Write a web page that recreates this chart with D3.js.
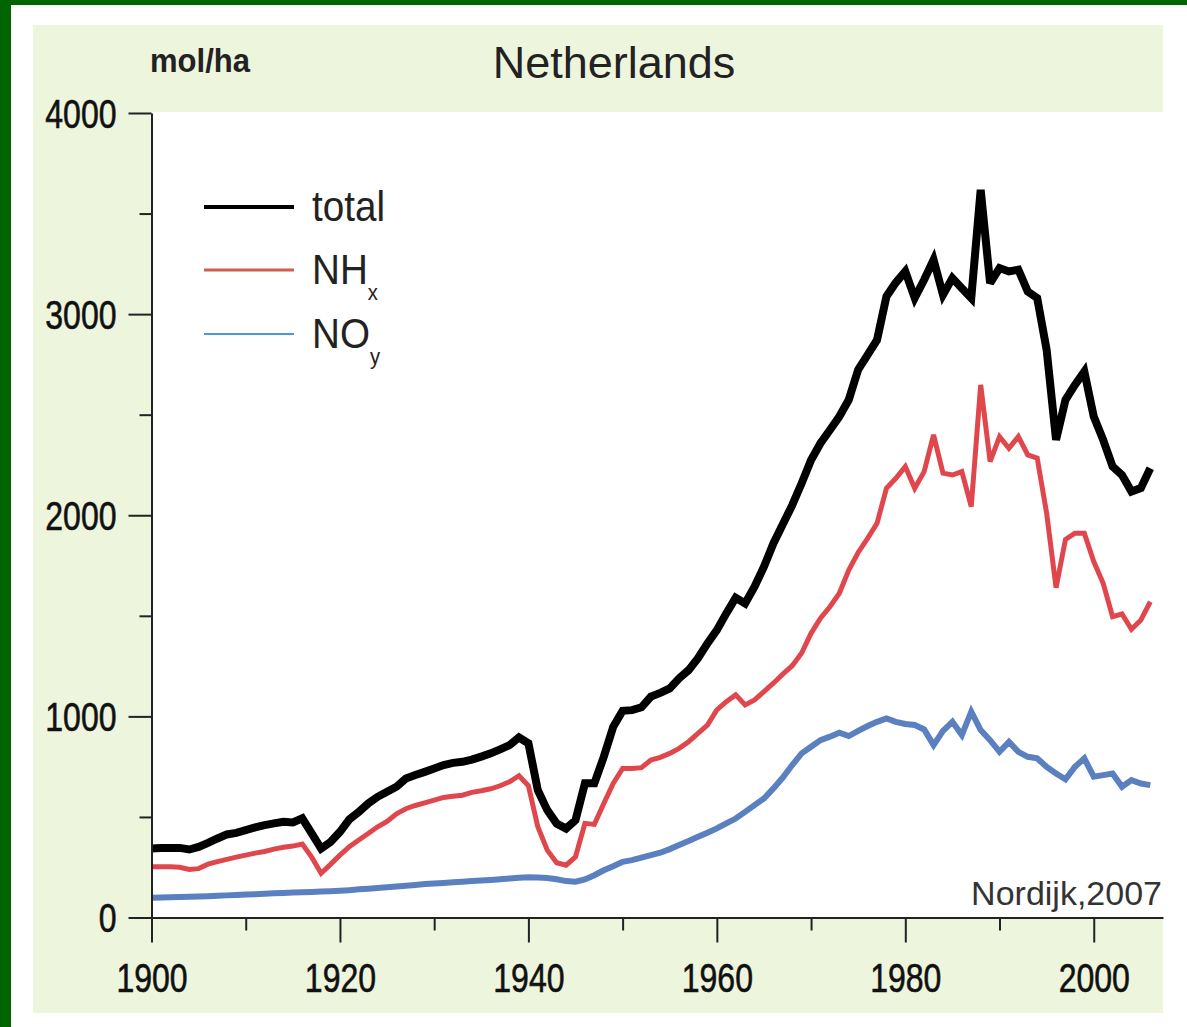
<!DOCTYPE html>
<html>
<head>
<meta charset="utf-8">
<script src="https://cdn.jsdelivr.net/npm/d3@7"></script>
<style>
  body { margin: 0; background: #fff; }
  svg { display: block; }
  text { font-family: "Liberation Sans", Arial, sans-serif; }
</style>
</head>
<body>
<svg id="chart" width="1187" height="1027"></svg>
<script>
// Nitrogen deposition in the Netherlands, mol/ha per year
const years = [
  1900,1901,1902,1903,1904,1905,1906,1907,1908,1909,
  1910,1911,1912,1913,1914,1915,1916,1917,1918,1919,
  1920,1921,1922,1923,1924,1925,1926,1927,1928,1929,
  1930,1931,1932,1933,1934,1935,1936,1937,1938,1939,
  1940,1941,1942,1943,1944,1945,1946,1947,1948,1949,
  1950,1951,1952,1953,1954,1955,1956,1957,1958,1959,
  1960,1961,1962,1963,1964,1965,1966,1967,1968,1969,
  1970,1971,1972,1973,1974,1975,1976,1977,1978,1979,
  1980,1981,1982,1983,1984,1985,1986,1987,1988,1989,
  1990,1991,1992,1993,1994,1995,1996,1997,1998,1999,
  2000,2001,2002,2003,2004,2005,2006
];

const total = [
  343,345,345,346,338,351,371,393,413,421,
  434,448,459,468,476,473,493,418,343,375,
  426,488,525,567,600,625,650,691,708,724,
  741,758,769,774,785,800,816,836,857,895,
  866,633,534,467,442,484,667,667,799,948,
  1028,1031,1045,1098,1117,1139,1189,1230,1289,1363,
  1429,1512,1590,1562,1645,1744,1860,1955,2050,2159,
  2275,2358,2424,2491,2574,2724,2797,2872,3088,3157,
  3212,3080,3171,3270,3096,3179,3129,3080,3618,3154,
  3229,3212,3221,3112,3080,2822,2375,2574,2648,2714,
  2491,2375,2242,2200,2118,2135,2234
];

const nhx = [
  252,252,252,250,239,243,265,278,289,300,
  310,320,328,340,349,355,365,300,220,264,
  310,352,385,418,451,478,516,541,557,570,
  584,597,603,608,622,630,640,655,675,705,
  655,451,335,272,260,302,468,463,567,667,
  741,741,745,783,796,816,841,874,915,957,
  1032,1073,1107,1057,1082,1123,1165,1210,1252,1315,
  1413,1488,1545,1612,1728,1815,1885,1960,2134,2184,
  2242,2134,2217,2400,2209,2200,2217,2043,2648,2267,
  2391,2333,2391,2300,2284,2010,1640,1880,1911,1911,
  1770,1662,1496,1509,1433,1479,1570
];

const noy = [
  98,99,101,102,103,105,106,108,110,112,
  114,116,118,120,122,124,126,127,129,131,
  133,136,140,143,147,150,154,158,162,166,
  169,172,175,178,181,184,187,190,194,198,
  200,199,196,190,181,178,189,210,235,255,
  277,285,298,310,322,340,360,380,401,421,
  443,468,492,525,559,592,642,696,758,816,
  849,882,899,919,902,928,952,973,990,973,
  962,957,935,857,928,973,907,1023,932,882,
  824,873,824,799,791,749,716,687,749,791,
  700,708,716,650,683,666,658
];

// Axis ticks
const yMajorTicks = [0, 1000, 2000, 3000, 4000];
const yMinorTicks = [500, 1500, 2500, 3500];
const xMajorTicks = [1900, 1920, 1940, 1960, 1980, 2000];
const xMinorTicks = [1910, 1930, 1950, 1970, 1990];

// Series and legend entries
const series = [
  { key: "total", values: total, color: "#000000", width: 8,   legendColor: "#000000", legendWidth: 4 },
  { key: "NH",    sub: "x", values: nhx, color: "#e0474c", width: 5, legendColor: "#cf5f4f", legendWidth: 3 },
  { key: "NO",    sub: "y", values: noy, color: "#5a80c0", width: 6, legendColor: "#4a9ad6", legendWidth: 2 }
];

const W = 1187, H = 1027;
const svg = d3.select("#chart");

// page frame and panel
svg.append("rect").attr("x", 0).attr("y", 0).attr("width", W).attr("height", H).attr("fill", "#ffffff");
svg.append("rect").attr("x", 0).attr("y", 0).attr("width", W).attr("height", 5).attr("fill", "#006400");
svg.append("rect").attr("x", 0).attr("y", 0).attr("width", 11).attr("height", H).attr("fill", "#006400");
svg.append("rect").attr("x", 33).attr("y", 25).attr("width", 1130).attr("height", 988).attr("fill", "#eef5dd");

const plot = { left: 151.5, right: 1163, top: 113, bottom: 917.5 };
svg.append("rect")
  .attr("x", plot.left).attr("y", 112)
  .attr("width", plot.right - plot.left).attr("height", plot.bottom - 112)
  .attr("fill", "#ffffff");

const x = d3.scaleLinear().domain([1900, 2007.35]).range([plot.left, plot.right]);
const y = d3.scaleLinear().domain([0, 4000]).range([plot.bottom, plot.top]);

// lines
const line = d3.line().x((d, i) => x(years[i])).y(d => y(d));
const lines = svg.append("g");
series.slice().reverse().forEach(s => {
  lines.append("path")
    .datum(s.values)
    .attr("d", line)
    .attr("fill", "none")
    .attr("stroke", s.color)
    .attr("stroke-width", s.width)
    .attr("stroke-linejoin", "miter")
    .attr("stroke-miterlimit", 3);
});

const axisColor = "#222";
const tickFont = 40, tickScale = 0.8;

function styleTickText(sel) {
  sel.attr("font-size", tickFont)
    .attr("font-family", "Liberation Sans, Arial, sans-serif")
    .attr("fill", "#111")
    .attr("stroke", "#111")
    .attr("stroke-width", 0.6);
}

// y axis
const yMinor = svg.append("g").attr("transform", `translate(${plot.left},0)`)
  .call(d3.axisLeft(y).tickValues(yMinorTicks).tickSize(12).tickSizeOuter(0).tickFormat(""));
yMinor.select(".domain").remove();
const yAxis = svg.append("g").attr("transform", `translate(${plot.left},0)`)
  .call(d3.axisLeft(y).tickValues(yMajorTicks).tickSize(23).tickSizeOuter(0).tickFormat(d3.format("d")));
yAxis.selectAll("text")
  .attr("x", 0).attr("dy", "0.36em")
  .attr("transform", `translate(-35,0) scale(${tickScale},1)`)
  .attr("text-anchor", "end")
  .call(styleTickText);

// x axis
const xMinor = svg.append("g").attr("transform", `translate(0,${plot.bottom})`)
  .call(d3.axisBottom(x).tickValues(xMinorTicks).tickSize(13).tickSizeOuter(0).tickFormat(""));
xMinor.select(".domain").remove();
const xAxis = svg.append("g").attr("transform", `translate(0,${plot.bottom})`)
  .call(d3.axisBottom(x).tickValues(xMajorTicks).tickSize(25).tickSizeOuter(0).tickFormat(d3.format("d")));
xAxis.selectAll("text")
  .attr("y", 0).attr("dy", 0)
  .attr("transform", `translate(0,74) scale(${tickScale},1)`)
  .attr("text-anchor", "middle")
  .call(styleTickText);

[yMinor, yAxis, xMinor, xAxis].forEach(g => {
  g.selectAll("line").attr("stroke", axisColor).attr("stroke-width", 2);
  g.selectAll(".domain").attr("stroke", axisColor).attr("stroke-width", 2);
});

// titles
svg.append("text").attr("x", 614).attr("y", 78).attr("text-anchor", "middle")
  .attr("font-size", 45).attr("fill", "#222").text("Netherlands");
svg.append("text").attr("transform", "translate(150,72) scale(0.94,1)")
  .attr("font-size", 33).attr("font-weight", "bold").attr("fill", "#222").text("mol/ha");
svg.append("text").attr("x", 1162).attr("y", 905).attr("text-anchor", "end")
  .attr("font-size", 34).attr("fill", "#333").text("Nordijk,2007");

// legend
const legendRows = [207, 270, 334];
const legend = svg.append("g");
series.forEach((s, i) => {
  const cy = legendRows[i];
  legend.append("line")
    .attr("x1", 204).attr("x2", 294).attr("y1", cy).attr("y2", cy)
    .attr("stroke", s.legendColor).attr("stroke-width", s.legendWidth);
  const t = legend.append("text")
    .attr("transform", `translate(312,${cy + 14}) scale(0.92,1)`)
    .attr("font-size", 42).attr("fill", "#222");
  t.append("tspan").text(s.key);
  if (s.sub) {
    t.append("tspan").attr("dy", 16).attr("font-size", 22).text(s.sub);
  }
});
</script>
</body>
</html>
